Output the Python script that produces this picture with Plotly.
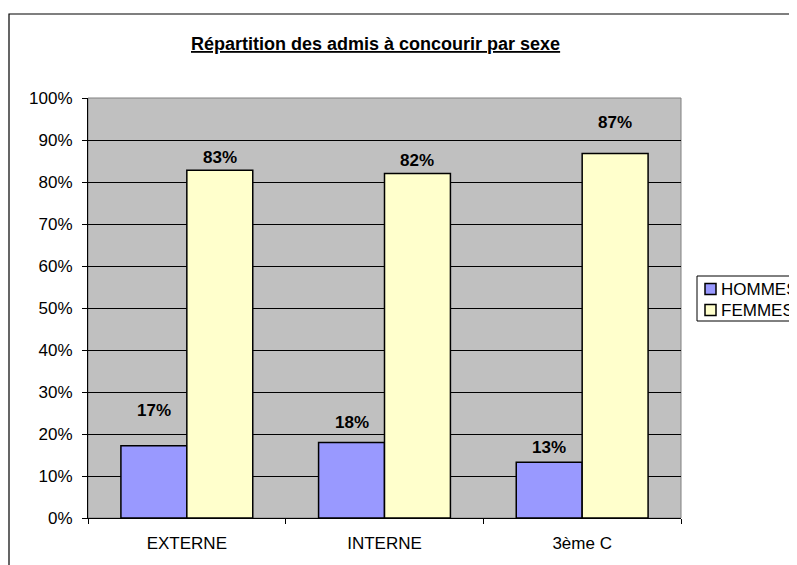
import plotly.graph_objects as go

categories = ["EXTERNE", "INTERNE", "3ème C"]
series_names = ["HOMMES", "FEMMES"]
series_colors = ["#9999FF", "#FFFFCC"]
hommes = [17.2, 18.0, 13.3]
femmes = [82.8, 82.0, 86.8]
hommes_labels = ["17%", "18%", "13%"]
femmes_labels = ["83%", "82%", "87%"]
y_ticks = [0, 10, 20, 30, 40, 50, 60, 70, 80, 90, 100]
y_tick_labels = [f"{v}%" for v in y_ticks]

# label vertical offsets (pixels) above bar tops, as in the reference
hommes_shift = [35, 20, 15]
femmes_shift = [13, 13, 31]

FONT = "Liberation Sans, Arial, sans-serif"
FS = 17
bargap = 0.333

# figure-space geometry (page is offset by 8px body margin)
W, H = 840, 565
L, R_EDGE, T, B_EDGE = 80, 673, 90, 510
PW, PH = R_EDGE - L, B_EDGE - T

def px(xf):
    return (xf - L) / PW

def py(yf):
    return (B_EDGE - yf) / PH

fig = go.Figure()
for name, color, vals in zip(series_names, series_colors, [hommes, femmes]):
    fig.add_trace(go.Bar(name=name, x=categories, y=vals,
                         marker=dict(color=color, line=dict(color="black", width=1.5))))

off = (1 - bargap) / 4
ann = []
for i in range(len(categories)):
    ann.append(dict(x=i - off, y=hommes[i], xref="x", yref="y", text=f"<b>{hommes_labels[i]}</b>",
                    showarrow=False, yshift=hommes_shift[i], font=dict(size=FS, color="black", family=FONT)))
    ann.append(dict(x=i + off, y=femmes[i], xref="x", yref="y", text=f"<b>{femmes_labels[i]}</b>",
                    showarrow=False, yshift=femmes_shift[i], font=dict(size=FS, color="black", family=FONT)))

# title
ann.append(dict(x=px(367), y=py(36), xref="paper", yref="paper",
                text="<b><u>Répartition des admis à concourir par sexe</u></b>", showarrow=False,
                font=dict(size=18, color="black", family=FONT), xanchor="center", yanchor="middle"))

shapes = [
    # outer chart frame
    dict(type="rect", xref="paper", yref="paper", x0=px(1), x1=px(1000),
         y0=py(700), y1=py(6), line=dict(color="black", width=1.2), layer="below"),
    # plot area border (grey)
    dict(type="rect", xref="paper", yref="paper", x0=0, x1=1, y0=0, y1=1,
         line=dict(color="#808080", width=1), layer="below"),
    # legend box
    dict(type="rect", xref="paper", yref="paper", x0=px(689), x1=px(830),
         y0=py(313), y1=py(268), line=dict(color="black", width=1), fillcolor="white"),
]

# legend entries (symbol + text), built from series names/colours
leg_y = [281, 302]
for name, color, yc in zip(series_names, series_colors, leg_y):
    shapes.append(dict(type="rect", xref="paper", yref="paper", x0=px(697), x1=px(708),
                       y0=py(yc + 5.5), y1=py(yc - 5.5), line=dict(color="black", width=1.5),
                       fillcolor=color))
    ann.append(dict(x=px(711), y=py(yc), xref="paper", yref="paper", text=name, showarrow=False,
                    xanchor="left", yanchor="middle", font=dict(size=FS, color="black", family=FONT)))

fig.update_layout(
    width=W, height=H,
    margin=dict(l=L, r=W - R_EDGE, t=T, b=H - B_EDGE, autoexpand=False),
    paper_bgcolor="white", plot_bgcolor="#C0C0C0",
    barmode="group", bargap=bargap, bargroupgap=0,
    font=dict(family=FONT, size=FS, color="black"),
    showlegend=False,
    annotations=ann,
    shapes=shapes,
)
fig.update_yaxes(range=[0, 100], tickvals=y_ticks, ticktext=y_tick_labels,
                 showgrid=True, gridcolor="black", gridwidth=1,
                 showline=True, linecolor="black", linewidth=1,
                 ticks="outside", ticklen=5, tickcolor="black", zeroline=False,
                 ticklabelstandoff=6,
                 tickfont=dict(size=FS, family=FONT, color="black"))
fig.update_xaxes(showline=True, linecolor="black", linewidth=1,
                 ticks="outside", ticklen=5, tickcolor="black", tickson="boundaries",
                 ticklabelstandoff=10,
                 showgrid=False, tickfont=dict(size=FS, family=FONT, color="black"))

fig.write_html("out.html")
